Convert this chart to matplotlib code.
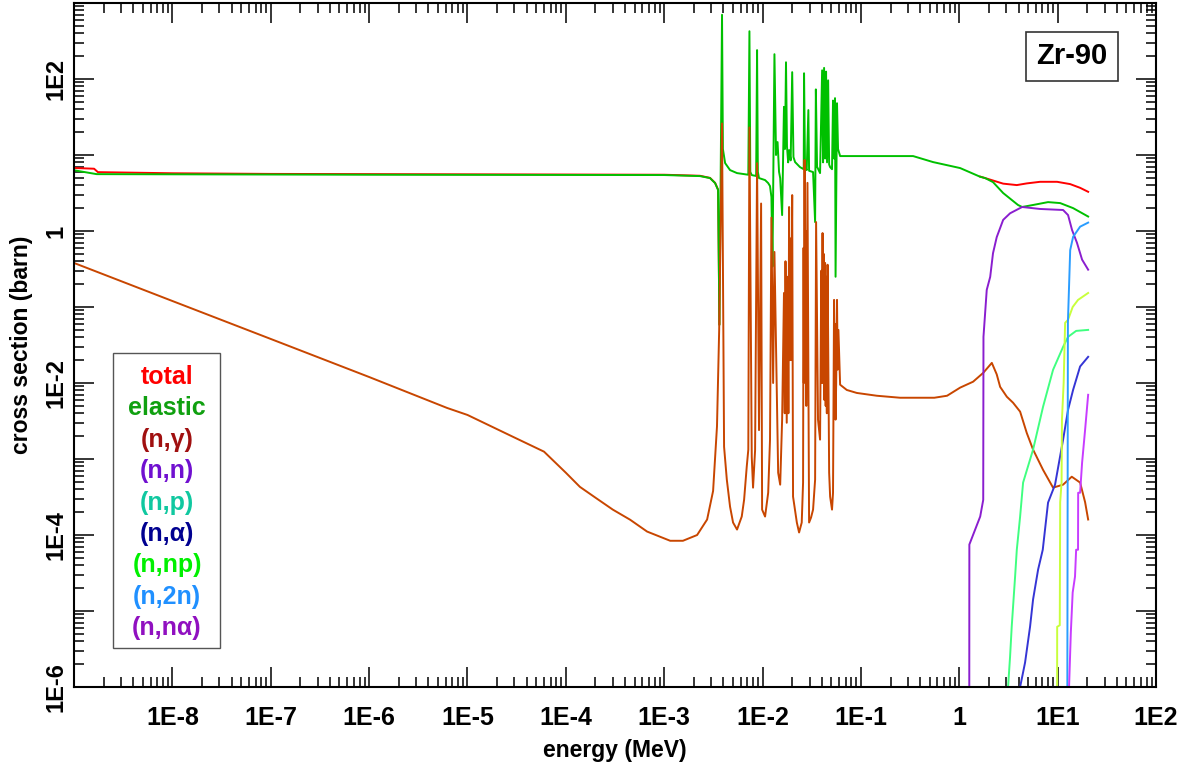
import matplotlib
matplotlib.use("Agg")
import matplotlib.pyplot as plt
from matplotlib.patches import Rectangle
from matplotlib.ticker import LogLocator, NullFormatter

plt.rcParams['font.family'] = ['Liberation Sans', 'DejaVu Sans']
plt.rcParams['font.weight'] = 'bold'

# energies in MeV, cross sections in barn
total_low_E = [1e-9, 1.6e-9, 1.75e-9, 1e-8, 1e-7, 1e-3, 2.31e-3, 2.92e-3, 3.29e-3, 3.53e-3, 3.64e-3]
total_low_xs = [6.75, 6.6, 5.95, 5.75, 5.64, 5.5, 5.33, 5.0, 4.3, 3.5, 0.06]
total_high_E = [1.63, 1.83, 2.79, 3.84, 4.85, 6.62, 9.86, 13.4, 16.9, 20.4]
total_high_xs = [5.2, 4.97, 4.2, 4.02, 4.23, 4.44, 4.44, 4.14, 3.7, 3.28]

elastic_E = [1e-9, 1.7e-9, 1e-6, 1e-3, 2.31e-3, 2.92e-3, 3.29e-3, 3.53e-3, 3.64e-3,
             3.87e-3, 3.95e-3, 4.16e-3, 4.67e-3, 5.50e-3, 7.16e-3, 7.35e-3, 7.5e-3,
             7.76e-3, 8.6e-3, 8.79e-3, 8.95e-3, 9.2e-3, 1.06e-2, 1.14e-2, 1.19e-2,
             1.23e-2, 1.26e-2, 1.32e-2, 1.37e-2, 1.42e-2, 1.47e-2, 1.51e-2, 1.58e-2,
             1.65e-2, 1.69e-2, 1.73e-2, 1.77e-2, 1.82e-2, 1.86e-2, 1.93e-2, 2.00e-2,
             2.06e-2, 2.14e-2, 2.40e-2, 2.62e-2, 2.64e-2, 2.70e-2, 2.81e-2, 2.92e-2,
             2.97e-2, 3.26e-2, 3.42e-2, 3.48e-2, 3.58e-2, 3.84e-2, 4.03e-2, 4.12e-2,
             4.22e-2, 4.32e-2, 4.42e-2, 4.52e-2, 4.64e-2, 4.75e-2, 4.86e-2, 5.08e-2,
             5.20e-2, 5.33e-2, 5.45e-2, 5.52e-2, 5.71e-2, 5.85e-2, 6.14e-2, 0.339,
             0.541, 1.02, 1.63, 1.83, 2.20, 2.79, 3.95, 4.35, 5.62, 7.98, 10.6,
             14.35, 20.4]
elastic_xs = [6.3, 5.6, 5.5, 5.45, 5.28, 4.97, 4.27, 3.46, 0.058,
              700, 12, 7.83, 6.33, 5.78, 5.5, 425, 6.0,
              5.44, 5.3, 240, 6.0, 4.97, 4.68, 4.27, 3.9,
              2.8, 0.34, 212, 10, 14.8, 6.0, 4.97, 1.62,
              43, 12, 166, 13, 8, 11.6, 8.5, 123,
              9.4, 8.07, 6.93, 6.5, 119, 7.0, 6.33, 39,
              6.2, 5.96, 1.31, 73, 7.0, 5.78, 130, 8,
              140, 9, 125, 8, 96, 7.5, 6.93, 6.5,
              52, 9, 56, 0.25, 48, 12, 9.68, 9.68,
              8.07, 6.73, 5.17, 4.97, 4.40, 3.16, 2.20, 2.07, 2.20, 2.40, 2.33,
              2.0, 1.55]

capture_E = [1e-9, 1e-8, 1e-7, 1e-6, 6.2e-6, 1e-5, 2.9e-5, 6e-5, 1e-4, 1.39e-4, 2e-4,
             3e-4, 4.5e-4, 6.7e-4, 1.15e-3, 1.55e-3, 2.16e-3, 2.73e-3, 3.14e-3,
             3.44e-3, 3.62e-3,
             3.87e-3, 4.06e-3, 4.33e-3, 4.67e-3, 5.01e-3, 5.50e-3, 6.14e-3, 6.49e-3,
             6.90e-3, 7.16e-3,
             7.35e-3, 7.76e-3, 8.00e-3, 8.39e-3,
             8.79e-3, 9.20e-3,
             9.66e-3, 9.89e-3, 1.06e-2, 1.14e-2, 1.19e-2,
             1.23e-2, 1.28e-2,
             1.32e-2, 1.44e-2, 1.51e-2, 1.58e-2,
             1.65e-2, 1.68e-2, 1.71e-2, 1.76e-2, 1.80e-2, 1.83e-2,
             1.86e-2, 1.89e-2, 1.91e-2, 1.95e-2,
             2.00e-2, 2.04e-2, 2.23e-2, 2.35e-2, 2.50e-2, 2.58e-2,
             2.61e-2, 2.63e-2,
             2.67e-2, 2.71e-2, 2.74e-2, 2.78e-2,
             2.86e-2, 2.97e-2, 3.11e-2, 3.26e-2, 3.42e-2,
             3.50e-2, 3.66e-2, 3.84e-2, 3.95e-2, 4.00e-2,
             4.07e-2, 4.14e-2, 4.18e-2, 4.24e-2,
             4.32e-2, 4.38e-2, 4.42e-2, 4.50e-2,
             4.58e-2, 4.75e-2, 4.86e-2, 5.08e-2, 5.20e-2,
             5.33e-2, 5.42e-2, 5.47e-2, 5.52e-2, 5.60e-2,
             5.71e-2, 5.80e-2, 5.90e-2,
             6.14e-2, 7.18e-2, 9.08e-2, 0.145, 0.25, 0.557, 0.751, 1.02,
             1.38, 1.75, 2.14, 2.40, 2.60, 3.04, 3.52, 4.15, 4.85, 5.62, 7.10,
             8.97, 11.35, 13.9, 16.9, 19.0, 20.4]
capture_xs = [0.38, 0.12, 0.038, 0.012, 4.7e-3, 3.8e-3, 1.96e-3, 1.25e-3, 6.6e-4, 4.3e-4, 3.1e-4,
              2.16e-4, 1.59e-4, 1.11e-4, 8.4e-5, 8.4e-5, 1.0e-4, 1.6e-4, 3.8e-4,
              2.7e-3, 0.05,
              26, 1.45e-3, 5.35e-4, 2.36e-4, 1.46e-4, 1.18e-4, 1.75e-4, 2.92e-4,
              7.9e-4, 1.33e-3,
              23, 1.07e-3, 4.2e-4, 1.3e-3,
              7.8, 2.4e-3,
              2.3, 2.16e-4, 1.75e-4, 3.6e-4, 1.8e-3,
              1.5, 0.01,
              0.53, 6.6e-4, 4.6e-4, 3.3e-3,
              0.153, 4e-3, 0.4, 3e-3, 0.25, 4e-3,
              2.07, 0.02, 0.8, 0.02,
              2.97, 3.2e-4, 1.46e-4, 1.08e-4, 1.46e-4, 4.9e-4,
              0.6, 0.01,
              8.6, 0.02, 1.0, 5e-3,
              4.3, 1.46e-4, 1.7e-4, 2.16e-4, 5.35e-4,
              1.31, 3.3e-3, 1.8e-3, 0.3, 0.01,
              0.94, 0.01, 0.5, 6e-3,
              0.38, 5e-3, 0.25, 4e-3,
              0.36, 6.6e-4, 3.2e-4, 2.16e-4, 3.6e-4,
              0.124, 5e-3, 0.06, 3.3e-3, 0.01,
              0.124, 0.015, 0.05,
              9.5e-3, 8.1e-3, 7.4e-3, 6.8e-3, 6.4e-3, 6.4e-3, 6.8e-3, 8.7e-3,
              0.0104, 0.0136, 0.0184, 0.013, 8.9e-3, 6.6e-3, 5.5e-3, 4.2e-3, 2.2e-3, 1.33e-3, 7.2e-4,
              4.2e-4, 4.6e-4, 5.85e-4, 4.9e-4, 2.7e-4, 1.6e-4]

nn_E = [1.26, 1.265, 1.63, 1.75, 1.76, 1.90, 2.06, 2.20, 2.40, 2.79, 3.28, 4.35, 6.62, 11.35, 12.75, 14.0, 15.7, 17.7, 20.4]
nn_xs = [1e-8, 7.5e-5, 1.75e-4, 2.9e-4, 0.0405, 0.168, 0.249, 0.51, 0.83, 1.40, 1.71, 2.07, 1.95, 1.89, 1.62, 1.03, 0.70, 0.42, 0.31]

np_E = [3.05, 3.13, 3.28, 3.41, 3.52, 3.69, 3.84, 4.15, 4.45, 5.62, 7.10, 8.97, 11.35, 12.75, 15.4, 20.4]
np_xs = [5e-7, 1e-6, 2.5e-6, 6.25e-6, 1.15e-5, 2.84e-5, 6.4e-5, 1.75e-4, 4.9e-4, 1.33e-3, 4.87e-3, 0.0149, 0.0299, 0.0405, 0.0485, 0.050]

na_E = [4.05, 4.15, 4.66, 5.24, 5.62, 6.32, 7.05, 7.98, 9.40, 11.35, 12.75, 14.35, 16.9, 20.4]
na_xs = [5e-7, 1e-6, 2.1e-6, 6.25e-6, 1.42e-5, 3.5e-5, 6.4e-5, 2.67e-4, 4.6e-4, 1.8e-3, 4.45e-3, 8.14e-3, 0.0165, 0.0221]

nnp_E = [9.85, 9.88, 10.5, 10.6, 10.95, 11.05, 11.5, 11.9, 12.75, 14.2, 16.1, 20.4]
nnp_xs = [1e-7, 6.2e-6, 6.5e-6, 2.7e-4, 4.9e-4, 3.3e-3, 0.0101, 0.062, 0.068, 0.100, 0.124, 0.153]

n2n_E = [12.5, 12.7, 13.4, 14.35, 16.9, 20.4]
n2n_xs = [1e-7, 0.062, 0.56, 0.84, 1.14, 1.29]

nna_E = [13.0, 13.05, 13.6, 14.2, 15.0, 15.4, 16.1, 16.15, 16.9, 17.7, 19.0, 20.4]
nna_xs = [5e-7, 1e-6, 5.2e-6, 1.75e-5, 2.84e-5, 6.4e-5, 6.4e-5, 3.6e-4, 3.6e-4, 8.9e-4, 2.43e-3, 7.0e-3]

labels = ['total', 'elastic', '(n,γ)', '(n,n)', '(n,p)', '(n,α)', '(n,np)', '(n,2n)', '(n,nα)']
line_colors = ['#ff0000', '#00c000', '#c84600', '#8a1ecf', '#40ff80', '#3535d5', '#c8ff3c', '#2a9dff', '#c83cff']
label_colors = ['#ff0000', '#10a010', '#a01010', '#7010d0', '#10c8a0', '#000090', '#00f000', '#2090ff', '#9010c0']

xticks = [1e-9, 1e-8, 1e-7, 1e-6, 1e-5, 1e-4, 1e-3, 1e-2, 1e-1, 1, 1e1, 1e2]
xticklabels = ['', '1E-8', '1E-7', '1E-6', '1E-5', '1E-4', '1E-3', '1E-2', '1E-1', '1', '1E1', '1E2']
yticks = [1e-6, 1e-5, 1e-4, 1e-3, 1e-2, 1e-1, 1, 1e1, 1e2, 1e3]
yticklabels = ['1E-6', '', '1E-4', '', '1E-2', '', '1', '', '1E2', '']

fig = plt.figure(figsize=(11.84, 7.69), dpi=100)
ax = fig.add_axes([0.0625, 0.1066, 0.9139, 0.8895])
ax.set_xscale('log')
ax.set_yscale('log')

lw = 1.4
ax.plot(total_low_E, total_low_xs, color=line_colors[0], lw=lw)
ax.plot(total_high_E, total_high_xs, color=line_colors[0], lw=lw)
ax.plot(elastic_E, elastic_xs, color=line_colors[1], lw=lw)
ax.plot(capture_E, capture_xs, color=line_colors[2], lw=lw)
series = [(nn_E, nn_xs), (np_E, np_xs), (na_E, na_xs), (nnp_E, nnp_xs), (n2n_E, n2n_xs), (nna_E, nna_xs)]
for (e, xs), c in zip(series, line_colors[3:]):
    ax.plot(e, xs, color=c, lw=lw)

ax.set_xlim(1e-9, 1e2)
ax.set_ylim(1e-6, 1e3)

ax.set_xticks(xticks)
ax.set_xticklabels(xticklabels)
ax.set_yticks(yticks)
ax.set_yticklabels(yticklabels, rotation=90, va='center')
minor = LogLocator(base=10, subs=[2, 3, 4, 5, 6, 7, 8, 9], numticks=200)
ax.xaxis.set_minor_locator(minor)
ax.yaxis.set_minor_locator(LogLocator(base=10, subs=[2, 3, 4, 5, 6, 7, 8, 9], numticks=200))
ax.xaxis.set_minor_formatter(NullFormatter())
ax.yaxis.set_minor_formatter(NullFormatter())
ax.tick_params(which='both', direction='in', top=True, right=True, width=1.1)
ax.tick_params(which='major', length=14.5)
ax.tick_params(which='minor', length=7.2)
ax.tick_params(axis='x', which='major', labelsize=18, pad=14)
ax.tick_params(axis='y', which='major', labelsize=17, pad=5)
for s in ax.spines.values():
    s.set_linewidth(1.5)

ax.set_xlabel('energy (MeV)', fontsize=16.5, fontweight='bold')
ax.set_ylabel('cross section (barn)', fontsize=16.5, fontweight='bold')
ax.xaxis.set_label_coords(0.5, -0.076)
ax.yaxis.set_label_coords(-0.038, 0.5)

# legend box with coloured names
ax.add_patch(Rectangle((0.0365, 0.0577), 0.0984, 0.4306, transform=ax.transAxes,
                       fill=True, fc='white', ec='#555555', lw=1.0, zorder=5))
for i, (lab, c) in enumerate(zip(labels, label_colors)):
    ax.text(0.086, 0.4532 - i * 0.0459, lab, color=c, fontsize=18, fontweight='bold',
            ha='center', va='center', transform=ax.transAxes, zorder=6)

ax.text(0.9224, 0.9218, 'Zr-90', fontsize=21, fontweight='bold', ha='center', va='center',
        transform=ax.transAxes, zorder=6,
        bbox=dict(boxstyle='square,pad=0.35', fc='white', ec='#333333', lw=1.2))

fig.savefig('out.png', dpi=100)
